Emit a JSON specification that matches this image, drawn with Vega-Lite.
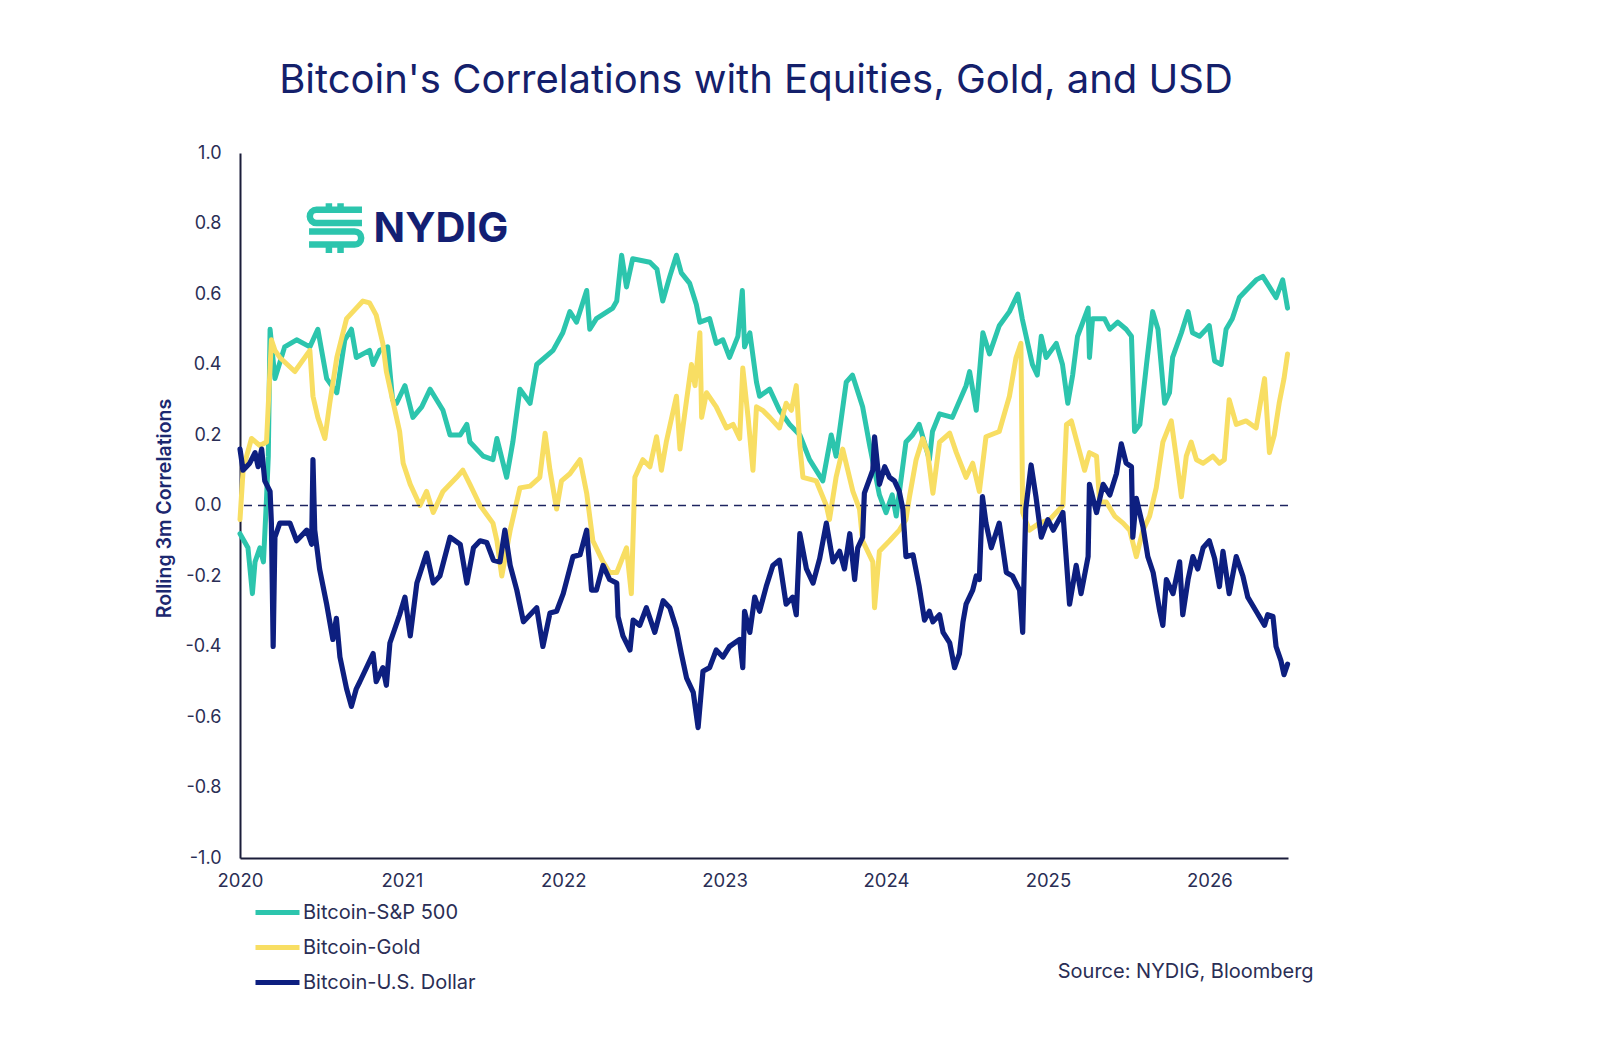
{
  "$schema": "https://vega.github.io/schema/vega-lite/v6.json",
  "width": 1048,
  "height": 705,
  "autosize": "none",
  "padding": {"left": 240, "top": 153, "right": 311, "bottom": 191},
  "background": "#ffffff",
  "title": {
    "text": "Bitcoin's Correlations with Equities, Gold, and USD",
    "font": "Inter",
    "fontSize": 40,
    "fontWeight": 400,
    "color": "#14206b",
    "anchor": "middle",
    "frame": "group",
    "offset": 43,
    "dx": -8
  },
  "datasets": {
    "spx": [
      {"date": "2020-01-01", "corr": -0.08}, {"date": "2020-01-10", "corr": -0.10}, {"date": "2020-01-19", "corr": -0.12},
      {"date": "2020-01-29", "corr": -0.25}, {"date": "2020-02-04", "corr": -0.16}, {"date": "2020-02-15", "corr": -0.12},
      {"date": "2020-02-23", "corr": -0.16}, {"date": "2020-03-01", "corr": 0.02}, {"date": "2020-03-05", "corr": 0.14},
      {"date": "2020-03-09", "corr": 0.50}, {"date": "2020-03-20", "corr": 0.36}, {"date": "2020-04-11", "corr": 0.45},
      {"date": "2020-05-08", "corr": 0.47}, {"date": "2020-06-07", "corr": 0.45}, {"date": "2020-06-25", "corr": 0.50},
      {"date": "2020-07-15", "corr": 0.36}, {"date": "2020-08-07", "corr": 0.32}, {"date": "2020-08-25", "corr": 0.47},
      {"date": "2020-09-09", "corr": 0.50}, {"date": "2020-09-20", "corr": 0.42}, {"date": "2020-10-20", "corr": 0.44},
      {"date": "2020-10-28", "corr": 0.40}, {"date": "2020-11-12", "corr": 0.44}, {"date": "2020-11-30", "corr": 0.45},
      {"date": "2020-12-11", "corr": 0.30}, {"date": "2020-12-20", "corr": 0.29}, {"date": "2021-01-08", "corr": 0.34},
      {"date": "2021-01-26", "corr": 0.25}, {"date": "2021-02-15", "corr": 0.28}, {"date": "2021-03-06", "corr": 0.33},
      {"date": "2021-04-04", "corr": 0.27}, {"date": "2021-04-20", "corr": 0.20}, {"date": "2021-05-13", "corr": 0.20},
      {"date": "2021-05-28", "corr": 0.23}, {"date": "2021-06-04", "corr": 0.18}, {"date": "2021-07-04", "corr": 0.14},
      {"date": "2021-07-26", "corr": 0.13}, {"date": "2021-08-04", "corr": 0.19}, {"date": "2021-08-26", "corr": 0.08},
      {"date": "2021-09-09", "corr": 0.18}, {"date": "2021-09-25", "corr": 0.33}, {"date": "2021-10-18", "corr": 0.29},
      {"date": "2021-11-02", "corr": 0.40}, {"date": "2021-12-09", "corr": 0.44}, {"date": "2021-12-31", "corr": 0.49},
      {"date": "2022-01-16", "corr": 0.55}, {"date": "2022-01-31", "corr": 0.52}, {"date": "2022-02-23", "corr": 0.61},
      {"date": "2022-03-02", "corr": 0.50}, {"date": "2022-03-17", "corr": 0.53}, {"date": "2022-04-23", "corr": 0.56},
      {"date": "2022-05-02", "corr": 0.58}, {"date": "2022-05-13", "corr": 0.71}, {"date": "2022-05-24", "corr": 0.62},
      {"date": "2022-06-07", "corr": 0.70}, {"date": "2022-07-16", "corr": 0.69}, {"date": "2022-08-01", "corr": 0.67},
      {"date": "2022-08-14", "corr": 0.58}, {"date": "2022-08-30", "corr": 0.65}, {"date": "2022-09-14", "corr": 0.71},
      {"date": "2022-09-25", "corr": 0.66}, {"date": "2022-10-14", "corr": 0.63}, {"date": "2022-10-29", "corr": 0.57},
      {"date": "2022-11-06", "corr": 0.52}, {"date": "2022-11-28", "corr": 0.53}, {"date": "2022-12-13", "corr": 0.46},
      {"date": "2022-12-28", "corr": 0.47}, {"date": "2023-01-12", "corr": 0.42}, {"date": "2023-01-31", "corr": 0.48},
      {"date": "2023-02-10", "corr": 0.61}, {"date": "2023-02-15", "corr": 0.45}, {"date": "2023-02-27", "corr": 0.49},
      {"date": "2023-03-14", "corr": 0.35}, {"date": "2023-03-21", "corr": 0.31}, {"date": "2023-04-13", "corr": 0.33},
      {"date": "2023-05-05", "corr": 0.27}, {"date": "2023-05-28", "corr": 0.23}, {"date": "2023-06-20", "corr": 0.20},
      {"date": "2023-07-12", "corr": 0.13}, {"date": "2023-08-11", "corr": 0.07}, {"date": "2023-08-30", "corr": 0.20},
      {"date": "2023-09-10", "corr": 0.14}, {"date": "2023-10-03", "corr": 0.35}, {"date": "2023-10-17", "corr": 0.37},
      {"date": "2023-11-09", "corr": 0.28}, {"date": "2023-11-25", "corr": 0.17}, {"date": "2023-12-17", "corr": 0.03},
      {"date": "2024-01-01", "corr": -0.02}, {"date": "2024-01-15", "corr": 0.03}, {"date": "2024-01-24", "corr": -0.03},
      {"date": "2024-02-15", "corr": 0.18}, {"date": "2024-03-01", "corr": 0.20}, {"date": "2024-03-16", "corr": 0.23},
      {"date": "2024-04-08", "corr": 0.13}, {"date": "2024-04-15", "corr": 0.21}, {"date": "2024-05-01", "corr": 0.26},
      {"date": "2024-05-30", "corr": 0.25}, {"date": "2024-06-30", "corr": 0.34}, {"date": "2024-07-08", "corr": 0.38},
      {"date": "2024-07-23", "corr": 0.27}, {"date": "2024-08-07", "corr": 0.49}, {"date": "2024-08-22", "corr": 0.43},
      {"date": "2024-09-13", "corr": 0.51}, {"date": "2024-10-06", "corr": 0.55}, {"date": "2024-10-25", "corr": 0.60},
      {"date": "2024-11-04", "corr": 0.53}, {"date": "2024-11-27", "corr": 0.40}, {"date": "2024-12-08", "corr": 0.37},
      {"date": "2024-12-17", "corr": 0.48}, {"date": "2024-12-28", "corr": 0.42}, {"date": "2025-01-20", "corr": 0.46},
      {"date": "2025-02-03", "corr": 0.40}, {"date": "2025-02-15", "corr": 0.29}, {"date": "2025-02-26", "corr": 0.37},
      {"date": "2025-03-09", "corr": 0.48}, {"date": "2025-04-02", "corr": 0.56}, {"date": "2025-04-05", "corr": 0.42},
      {"date": "2025-04-12", "corr": 0.53}, {"date": "2025-05-09", "corr": 0.53}, {"date": "2025-05-21", "corr": 0.50},
      {"date": "2025-06-08", "corr": 0.52}, {"date": "2025-06-27", "corr": 0.50}, {"date": "2025-07-09", "corr": 0.48},
      {"date": "2025-07-16", "corr": 0.21}, {"date": "2025-07-28", "corr": 0.23}, {"date": "2025-08-12", "corr": 0.40},
      {"date": "2025-08-26", "corr": 0.55}, {"date": "2025-09-07", "corr": 0.50}, {"date": "2025-09-22", "corr": 0.29},
      {"date": "2025-10-03", "corr": 0.32}, {"date": "2025-10-10", "corr": 0.42}, {"date": "2025-10-30", "corr": 0.49},
      {"date": "2025-11-14", "corr": 0.55}, {"date": "2025-11-24", "corr": 0.49}, {"date": "2025-12-10", "corr": 0.48},
      {"date": "2025-12-25", "corr": 0.50}, {"date": "2026-01-01", "corr": 0.51}, {"date": "2026-01-13", "corr": 0.41},
      {"date": "2026-01-28", "corr": 0.40}, {"date": "2026-02-08", "corr": 0.50}, {"date": "2026-02-22", "corr": 0.53},
      {"date": "2026-03-10", "corr": 0.59}, {"date": "2026-03-25", "corr": 0.61}, {"date": "2026-04-17", "corr": 0.64},
      {"date": "2026-05-02", "corr": 0.65}, {"date": "2026-05-17", "corr": 0.62}, {"date": "2026-06-01", "corr": 0.59},
      {"date": "2026-06-16", "corr": 0.64}, {"date": "2026-06-27", "corr": 0.56}
    ],
    "gold": [
      {"date": "2020-01-01", "corr": -0.04}, {"date": "2020-01-08", "corr": 0.10}, {"date": "2020-01-16", "corr": 0.14},
      {"date": "2020-01-27", "corr": 0.19}, {"date": "2020-02-15", "corr": 0.17}, {"date": "2020-03-01", "corr": 0.18},
      {"date": "2020-03-12", "corr": 0.47}, {"date": "2020-03-20", "corr": 0.44}, {"date": "2020-03-31", "corr": 0.42},
      {"date": "2020-05-04", "corr": 0.38}, {"date": "2020-06-07", "corr": 0.44}, {"date": "2020-06-14", "corr": 0.31},
      {"date": "2020-06-25", "corr": 0.25}, {"date": "2020-07-11", "corr": 0.19}, {"date": "2020-07-22", "corr": 0.29},
      {"date": "2020-08-07", "corr": 0.42}, {"date": "2020-08-29", "corr": 0.53}, {"date": "2020-09-20", "corr": 0.56},
      {"date": "2020-10-05", "corr": 0.58}, {"date": "2020-10-20", "corr": 0.575}, {"date": "2020-11-04", "corr": 0.54},
      {"date": "2020-11-19", "corr": 0.46}, {"date": "2020-11-27", "corr": 0.38}, {"date": "2020-12-11", "corr": 0.30},
      {"date": "2020-12-27", "corr": 0.21}, {"date": "2021-01-04", "corr": 0.12}, {"date": "2021-01-20", "corr": 0.06},
      {"date": "2021-02-11", "corr": 0.00}, {"date": "2021-02-26", "corr": 0.04}, {"date": "2021-03-13", "corr": -0.02},
      {"date": "2021-04-04", "corr": 0.04}, {"date": "2021-05-05", "corr": 0.08}, {"date": "2021-05-19", "corr": 0.10},
      {"date": "2021-06-04", "corr": 0.06}, {"date": "2021-06-27", "corr": 0.00}, {"date": "2021-07-26", "corr": -0.05},
      {"date": "2021-08-04", "corr": -0.10}, {"date": "2021-08-15", "corr": -0.20}, {"date": "2021-09-03", "corr": -0.07},
      {"date": "2021-09-25", "corr": 0.05}, {"date": "2021-10-18", "corr": 0.055}, {"date": "2021-11-09", "corr": 0.08},
      {"date": "2021-11-21", "corr": 0.205}, {"date": "2021-12-02", "corr": 0.10}, {"date": "2021-12-17", "corr": -0.01},
      {"date": "2021-12-28", "corr": 0.07}, {"date": "2022-01-16", "corr": 0.09}, {"date": "2022-02-08", "corr": 0.13},
      {"date": "2022-02-23", "corr": 0.035}, {"date": "2022-03-09", "corr": -0.10}, {"date": "2022-04-01", "corr": -0.16},
      {"date": "2022-04-16", "corr": -0.19}, {"date": "2022-05-02", "corr": -0.19}, {"date": "2022-05-24", "corr": -0.12},
      {"date": "2022-06-04", "corr": -0.25}, {"date": "2022-06-12", "corr": 0.08}, {"date": "2022-06-30", "corr": 0.13},
      {"date": "2022-07-16", "corr": 0.11}, {"date": "2022-07-31", "corr": 0.195}, {"date": "2022-08-11", "corr": 0.10},
      {"date": "2022-08-22", "corr": 0.18}, {"date": "2022-09-14", "corr": 0.31}, {"date": "2022-09-22", "corr": 0.16},
      {"date": "2022-10-07", "corr": 0.30}, {"date": "2022-10-18", "corr": 0.40}, {"date": "2022-10-26", "corr": 0.34},
      {"date": "2022-11-06", "corr": 0.49}, {"date": "2022-11-10", "corr": 0.25}, {"date": "2022-11-21", "corr": 0.32},
      {"date": "2022-12-13", "corr": 0.28}, {"date": "2023-01-05", "corr": 0.22}, {"date": "2023-01-20", "corr": 0.23},
      {"date": "2023-02-04", "corr": 0.19}, {"date": "2023-02-11", "corr": 0.39}, {"date": "2023-02-23", "corr": 0.25},
      {"date": "2023-03-06", "corr": 0.10}, {"date": "2023-03-14", "corr": 0.28}, {"date": "2023-03-28", "corr": 0.27},
      {"date": "2023-04-13", "corr": 0.25}, {"date": "2023-05-05", "corr": 0.22}, {"date": "2023-05-20", "corr": 0.29},
      {"date": "2023-06-01", "corr": 0.27}, {"date": "2023-06-12", "corr": 0.34}, {"date": "2023-06-20", "corr": 0.17},
      {"date": "2023-06-27", "corr": 0.08}, {"date": "2023-07-27", "corr": 0.07}, {"date": "2023-08-19", "corr": 0.00},
      {"date": "2023-08-26", "corr": -0.04}, {"date": "2023-09-10", "corr": 0.08}, {"date": "2023-09-25", "corr": 0.16},
      {"date": "2023-10-18", "corr": 0.04}, {"date": "2023-11-02", "corr": -0.01}, {"date": "2023-11-09", "corr": -0.10},
      {"date": "2023-12-02", "corr": -0.16}, {"date": "2023-12-06", "corr": -0.29}, {"date": "2023-12-17", "corr": -0.13},
      {"date": "2024-01-09", "corr": -0.10}, {"date": "2024-01-31", "corr": -0.07}, {"date": "2024-02-15", "corr": -0.04},
      {"date": "2024-02-23", "corr": 0.025}, {"date": "2024-03-09", "corr": 0.13}, {"date": "2024-03-24", "corr": 0.19},
      {"date": "2024-04-04", "corr": 0.15}, {"date": "2024-04-16", "corr": 0.035}, {"date": "2024-05-01", "corr": 0.18},
      {"date": "2024-05-24", "corr": 0.205}, {"date": "2024-06-08", "corr": 0.15}, {"date": "2024-06-30", "corr": 0.08},
      {"date": "2024-07-15", "corr": 0.12}, {"date": "2024-07-30", "corr": 0.04}, {"date": "2024-08-14", "corr": 0.195},
      {"date": "2024-09-13", "corr": 0.21}, {"date": "2024-10-06", "corr": 0.31}, {"date": "2024-10-21", "corr": 0.42},
      {"date": "2024-11-01", "corr": 0.46}, {"date": "2024-11-05", "corr": -0.02}, {"date": "2024-11-20", "corr": -0.07},
      {"date": "2024-12-13", "corr": -0.05}, {"date": "2025-01-05", "corr": -0.04}, {"date": "2025-02-04", "corr": 0.00},
      {"date": "2025-02-12", "corr": 0.23}, {"date": "2025-02-23", "corr": 0.24}, {"date": "2025-03-10", "corr": 0.17},
      {"date": "2025-03-25", "corr": 0.10}, {"date": "2025-04-05", "corr": 0.15}, {"date": "2025-04-21", "corr": 0.14},
      {"date": "2025-04-28", "corr": 0.01}, {"date": "2025-05-13", "corr": 0.01}, {"date": "2025-06-01", "corr": -0.03},
      {"date": "2025-06-20", "corr": -0.05}, {"date": "2025-07-05", "corr": -0.07}, {"date": "2025-07-20", "corr": -0.145},
      {"date": "2025-08-04", "corr": -0.07}, {"date": "2025-08-19", "corr": -0.03}, {"date": "2025-09-03", "corr": 0.05},
      {"date": "2025-09-18", "corr": 0.18}, {"date": "2025-10-07", "corr": 0.24}, {"date": "2025-10-18", "corr": 0.14},
      {"date": "2025-10-30", "corr": 0.025}, {"date": "2025-11-10", "corr": 0.14}, {"date": "2025-11-21", "corr": 0.18},
      {"date": "2025-12-03", "corr": 0.13}, {"date": "2025-12-18", "corr": 0.12}, {"date": "2026-01-09", "corr": 0.14},
      {"date": "2026-01-24", "corr": 0.12}, {"date": "2026-02-04", "corr": 0.13}, {"date": "2026-02-15", "corr": 0.30},
      {"date": "2026-03-03", "corr": 0.23}, {"date": "2026-03-25", "corr": 0.24}, {"date": "2026-04-17", "corr": 0.22},
      {"date": "2026-05-06", "corr": 0.36}, {"date": "2026-05-17", "corr": 0.15}, {"date": "2026-05-28", "corr": 0.20},
      {"date": "2026-06-08", "corr": 0.29}, {"date": "2026-06-19", "corr": 0.36}, {"date": "2026-06-27", "corr": 0.43}
    ],
    "usd": [
      {"date": "2020-01-01", "corr": 0.16}, {"date": "2020-01-08", "corr": 0.10}, {"date": "2020-01-23", "corr": 0.12},
      {"date": "2020-02-04", "corr": 0.15}, {"date": "2020-02-11", "corr": 0.11}, {"date": "2020-02-19", "corr": 0.16},
      {"date": "2020-02-26", "corr": 0.07}, {"date": "2020-03-09", "corr": 0.04}, {"date": "2020-03-12", "corr": -0.05},
      {"date": "2020-03-16", "corr": -0.40}, {"date": "2020-03-20", "corr": -0.09}, {"date": "2020-03-31", "corr": -0.05},
      {"date": "2020-04-23", "corr": -0.05}, {"date": "2020-05-08", "corr": -0.10}, {"date": "2020-05-31", "corr": -0.07},
      {"date": "2020-06-11", "corr": -0.11}, {"date": "2020-06-14", "corr": 0.13}, {"date": "2020-06-18", "corr": -0.07},
      {"date": "2020-06-29", "corr": -0.18}, {"date": "2020-07-15", "corr": -0.28}, {"date": "2020-07-29", "corr": -0.38},
      {"date": "2020-08-06", "corr": -0.32}, {"date": "2020-08-14", "corr": -0.43}, {"date": "2020-08-29", "corr": -0.52},
      {"date": "2020-09-09", "corr": -0.57}, {"date": "2020-09-20", "corr": -0.52}, {"date": "2020-09-28", "corr": -0.50},
      {"date": "2020-10-28", "corr": -0.42}, {"date": "2020-11-04", "corr": -0.50}, {"date": "2020-11-19", "corr": -0.46},
      {"date": "2020-11-27", "corr": -0.51}, {"date": "2020-12-05", "corr": -0.39}, {"date": "2020-12-27", "corr": -0.31},
      {"date": "2021-01-08", "corr": -0.26}, {"date": "2021-01-20", "corr": -0.37}, {"date": "2021-02-04", "corr": -0.22},
      {"date": "2021-02-26", "corr": -0.135}, {"date": "2021-03-13", "corr": -0.22}, {"date": "2021-03-28", "corr": -0.20},
      {"date": "2021-04-20", "corr": -0.09}, {"date": "2021-05-13", "corr": -0.11}, {"date": "2021-05-28", "corr": -0.22},
      {"date": "2021-06-12", "corr": -0.12}, {"date": "2021-06-27", "corr": -0.10}, {"date": "2021-07-12", "corr": -0.105},
      {"date": "2021-07-27", "corr": -0.155}, {"date": "2021-08-11", "corr": -0.16}, {"date": "2021-08-22", "corr": -0.07},
      {"date": "2021-09-03", "corr": -0.17}, {"date": "2021-09-18", "corr": -0.24}, {"date": "2021-10-03", "corr": -0.33},
      {"date": "2021-10-18", "corr": -0.31}, {"date": "2021-11-02", "corr": -0.29}, {"date": "2021-11-16", "corr": -0.40},
      {"date": "2021-12-02", "corr": -0.305}, {"date": "2021-12-17", "corr": -0.30}, {"date": "2022-01-01", "corr": -0.25},
      {"date": "2022-01-23", "corr": -0.145}, {"date": "2022-02-08", "corr": -0.14}, {"date": "2022-02-23", "corr": -0.07},
      {"date": "2022-03-06", "corr": -0.24}, {"date": "2022-03-17", "corr": -0.24}, {"date": "2022-04-01", "corr": -0.17},
      {"date": "2022-04-16", "corr": -0.21}, {"date": "2022-05-02", "corr": -0.22}, {"date": "2022-05-05", "corr": -0.315},
      {"date": "2022-05-16", "corr": -0.37}, {"date": "2022-06-01", "corr": -0.41}, {"date": "2022-06-08", "corr": -0.325},
      {"date": "2022-06-23", "corr": -0.34}, {"date": "2022-07-08", "corr": -0.29}, {"date": "2022-07-27", "corr": -0.36},
      {"date": "2022-08-15", "corr": -0.27}, {"date": "2022-08-30", "corr": -0.29}, {"date": "2022-09-14", "corr": -0.35},
      {"date": "2022-09-25", "corr": -0.42}, {"date": "2022-10-07", "corr": -0.49}, {"date": "2022-10-22", "corr": -0.53},
      {"date": "2022-11-02", "corr": -0.63}, {"date": "2022-11-13", "corr": -0.47}, {"date": "2022-11-28", "corr": -0.46},
      {"date": "2022-12-13", "corr": -0.41}, {"date": "2022-12-28", "corr": -0.43}, {"date": "2023-01-12", "corr": -0.40},
      {"date": "2023-02-04", "corr": -0.38}, {"date": "2023-02-11", "corr": -0.46}, {"date": "2023-02-15", "corr": -0.30},
      {"date": "2023-02-27", "corr": -0.36}, {"date": "2023-03-10", "corr": -0.26}, {"date": "2023-03-21", "corr": -0.30},
      {"date": "2023-04-05", "corr": -0.23}, {"date": "2023-04-20", "corr": -0.17}, {"date": "2023-05-05", "corr": -0.155},
      {"date": "2023-05-20", "corr": -0.28}, {"date": "2023-06-04", "corr": -0.26}, {"date": "2023-06-12", "corr": -0.31},
      {"date": "2023-06-20", "corr": -0.08}, {"date": "2023-07-05", "corr": -0.18}, {"date": "2023-07-20", "corr": -0.22},
      {"date": "2023-08-04", "corr": -0.15}, {"date": "2023-08-19", "corr": -0.05}, {"date": "2023-09-03", "corr": -0.16},
      {"date": "2023-09-18", "corr": -0.13}, {"date": "2023-09-29", "corr": -0.18}, {"date": "2023-10-11", "corr": -0.08},
      {"date": "2023-10-22", "corr": -0.21}, {"date": "2023-10-29", "corr": -0.12}, {"date": "2023-11-09", "corr": -0.09},
      {"date": "2023-11-13", "corr": 0.035}, {"date": "2023-12-02", "corr": 0.10}, {"date": "2023-12-06", "corr": 0.195},
      {"date": "2023-12-17", "corr": 0.06}, {"date": "2023-12-29", "corr": 0.11}, {"date": "2024-01-09", "corr": 0.08},
      {"date": "2024-01-20", "corr": 0.07}, {"date": "2024-01-31", "corr": 0.04}, {"date": "2024-02-08", "corr": -0.01},
      {"date": "2024-02-15", "corr": -0.145}, {"date": "2024-03-02", "corr": -0.14}, {"date": "2024-03-16", "corr": -0.23},
      {"date": "2024-03-28", "corr": -0.325}, {"date": "2024-04-08", "corr": -0.30}, {"date": "2024-04-16", "corr": -0.33},
      {"date": "2024-05-01", "corr": -0.31}, {"date": "2024-05-09", "corr": -0.36}, {"date": "2024-05-24", "corr": -0.39},
      {"date": "2024-06-04", "corr": -0.46}, {"date": "2024-06-15", "corr": -0.42}, {"date": "2024-06-23", "corr": -0.33},
      {"date": "2024-06-30", "corr": -0.28}, {"date": "2024-07-15", "corr": -0.24}, {"date": "2024-07-23", "corr": -0.20},
      {"date": "2024-07-30", "corr": -0.21}, {"date": "2024-08-06", "corr": 0.025}, {"date": "2024-08-14", "corr": -0.05},
      {"date": "2024-08-26", "corr": -0.12}, {"date": "2024-09-13", "corr": -0.05}, {"date": "2024-09-29", "corr": -0.19},
      {"date": "2024-10-13", "corr": -0.20}, {"date": "2024-10-29", "corr": -0.24}, {"date": "2024-11-05", "corr": -0.36},
      {"date": "2024-11-12", "corr": -0.01}, {"date": "2024-11-24", "corr": 0.115}, {"date": "2024-12-05", "corr": 0.025},
      {"date": "2024-12-17", "corr": -0.09}, {"date": "2025-01-01", "corr": -0.04}, {"date": "2025-01-13", "corr": -0.07},
      {"date": "2025-02-04", "corr": -0.02}, {"date": "2025-02-19", "corr": -0.28}, {"date": "2025-03-06", "corr": -0.17},
      {"date": "2025-03-17", "corr": -0.25}, {"date": "2025-04-02", "corr": -0.145}, {"date": "2025-04-05", "corr": 0.06},
      {"date": "2025-04-21", "corr": -0.02}, {"date": "2025-05-06", "corr": 0.06}, {"date": "2025-05-21", "corr": 0.03},
      {"date": "2025-06-05", "corr": 0.09}, {"date": "2025-06-16", "corr": 0.175}, {"date": "2025-06-27", "corr": 0.12},
      {"date": "2025-07-09", "corr": 0.11}, {"date": "2025-07-12", "corr": -0.09}, {"date": "2025-07-20", "corr": 0.02},
      {"date": "2025-08-04", "corr": -0.06}, {"date": "2025-08-15", "corr": -0.145}, {"date": "2025-08-27", "corr": -0.19},
      {"date": "2025-09-11", "corr": -0.30}, {"date": "2025-09-18", "corr": -0.34}, {"date": "2025-09-26", "corr": -0.21},
      {"date": "2025-10-11", "corr": -0.25}, {"date": "2025-10-26", "corr": -0.16}, {"date": "2025-11-02", "corr": -0.31},
      {"date": "2025-11-14", "corr": -0.21}, {"date": "2025-11-25", "corr": -0.145}, {"date": "2025-12-06", "corr": -0.18},
      {"date": "2025-12-18", "corr": -0.12}, {"date": "2026-01-01", "corr": -0.10}, {"date": "2026-01-13", "corr": -0.15},
      {"date": "2026-01-24", "corr": -0.23}, {"date": "2026-02-01", "corr": -0.13}, {"date": "2026-02-15", "corr": -0.25},
      {"date": "2026-03-03", "corr": -0.145}, {"date": "2026-03-18", "corr": -0.20}, {"date": "2026-03-29", "corr": -0.26},
      {"date": "2026-04-17", "corr": -0.30}, {"date": "2026-05-06", "corr": -0.34}, {"date": "2026-05-13", "corr": -0.31},
      {"date": "2026-05-25", "corr": -0.315}, {"date": "2026-06-01", "corr": -0.40}, {"date": "2026-06-12", "corr": -0.44},
      {"date": "2026-06-19", "corr": -0.48}, {"date": "2026-06-27", "corr": -0.45}
    ],
    "origin": [{"corr": 0}]
  },
  "layer": [
    {
      "data": {"name": "spx"},
      "mark": {"type": "line", "strokeWidth": 5, "strokeJoin": "round", "strokeCap": "round"},
      "encoding": {
        "x": {
          "field": "date",
          "type": "temporal",
          "scale": {
            "domain": [
              {"year": 2020, "month": 1, "date": 1},
              {"year": 2026, "month": 6, "date": 28}
            ]
          },
          "axis": {
            "title": null,
            "format": "%Y",
            "tickCount": {"interval": "year", "step": 1},
            "labelFlush": false,
            "labelPadding": 13,
            "labelFontSize": 18.5
          }
        },
        "y": {
          "field": "corr",
          "type": "quantitative",
          "scale": {"domain": [-1, 1], "nice": false, "zero": false},
          "axis": {
            "title": "Rolling 3m Correlations",
            "values": [-1, -0.8, -0.6, -0.4, -0.2, 0, 0.2, 0.4, 0.6, 0.8, 1],
            "labelExpr": "replace(format(datum.value, '.1f'), '\u2212', '-')",
            "labelPadding": 19,
            "labelFontSize": 18,
            "titleFontSize": 19.5,
            "titleFontWeight": 600,
            "titleColor": "#1c2870",
            "titleAngle": 270,
            "titleX": -76,
            "titleY": 355,
            "titleAlign": "center",
            "titleBaseline": "middle"
          }
        },
        "color": {
          "datum": "Bitcoin-S&P 500",
          "scale": {
            "domain": ["Bitcoin-S&P 500", "Bitcoin-Gold", "Bitcoin-U.S. Dollar"],
            "range": ["#2cc5ad", "#f8de63", "#0d1f80"]
          }
        }
      }
    },
    {
      "data": {"name": "gold"},
      "mark": {"type": "line", "strokeWidth": 5, "strokeJoin": "round", "strokeCap": "round"},
      "encoding": {
        "x": {"field": "date", "type": "temporal"},
        "y": {"field": "corr", "type": "quantitative"},
        "color": {"datum": "Bitcoin-Gold"}
      }
    },
    {
      "data": {"name": "origin"},
      "mark": {"type": "rule", "strokeDash": [8, 6], "color": "#1d2460", "strokeWidth": 1.6},
      "encoding": {"y": {"field": "corr", "type": "quantitative"}}
    },
    {
      "data": {"name": "usd"},
      "mark": {"type": "line", "strokeWidth": 5.2, "strokeJoin": "round", "strokeCap": "round"},
      "encoding": {
        "x": {"field": "date", "type": "temporal"},
        "y": {"field": "corr", "type": "quantitative"},
        "color": {"datum": "Bitcoin-U.S. Dollar"}
      }
    },
    {
      "data": {"values": [{"date": "2020-08-04", "corr": 0.787}]},
      "mark": {
        "type": "point",
        "filled": false,
        "stroke": "#2cc5ad",
        "strokeWidth": 6.5,
        "opacity": 1,
        "size": 2800,
        "shape": "M1,-0.69H-0.72A0.25,0.25 0 0 0 -0.72,-0.19H1M-1,0.125H0.72A0.25,0.25 0 0 1 0.72,0.625H-1M-0.25,-0.94V-0.69M0.19,-0.94V-0.69M-0.25,0.625V0.94M0.19,0.625V0.94"
      },
      "encoding": {
        "x": {"field": "date", "type": "temporal"},
        "y": {"field": "corr", "type": "quantitative"}
      }
    },
    {
      "data": {"values": [{"date": "2020-10-29", "corr": 0.7475, "label": "NYDIG"}]},
      "mark": {
        "type": "text",
        "font": "Inter",
        "fontSize": 41.5,
        "fontWeight": "bold",
        "color": "#131f73",
        "align": "left",
        "baseline": "alphabetic"
      },
      "encoding": {
        "x": {"field": "date", "type": "temporal"},
        "y": {"field": "corr", "type": "quantitative"},
        "text": {"field": "label"}
      }
    },
    {
      "data": {"values": [{"date": "2026-08-25", "corr": -1.3234, "label": "Source: NYDIG, Bloomberg"}]},
      "mark": {
        "type": "text",
        "font": "Inter",
        "fontSize": 20,
        "color": "#2a2e55",
        "align": "right",
        "baseline": "middle"
      },
      "encoding": {
        "x": {"field": "date", "type": "temporal"},
        "y": {"field": "corr", "type": "quantitative"},
        "text": {"field": "label"}
      }
    }
  ],
  "config": {
    "font": "Inter",
    "view": {"stroke": null},
    "axis": {
      "domain": true,
      "domainColor": "#1b1d3a",
      "domainWidth": 2,
      "ticks": false,
      "grid": false,
      "labelColor": "#2a2e55",
      "labelFont": "Inter"
    },
    "legend": {
      "orient": "none",
      "legendX": 13,
      "legendY": 735,
      "title": null,
      "symbolType": "stroke",
      "symbolSize": 1936,
      "symbolStrokeWidth": 5,
      "labelFontSize": 20,
      "labelFont": "Inter",
      "labelColor": "#2a2e55",
      "labelLimit": 400,
      "labelOffset": 1,
      "rowPadding": -11
    }
  }
}
